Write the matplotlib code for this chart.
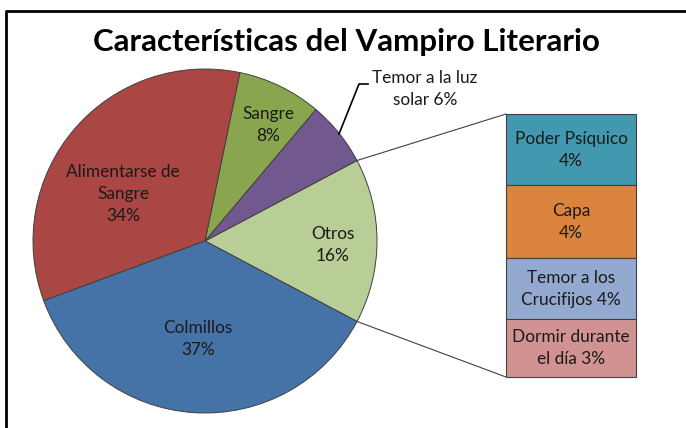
import numpy as np
import matplotlib.pyplot as plt

plt.rcParams['font.family'] = ['Lato', 'DejaVu Sans']

# Datos
pie_labels = ['Otros', 'Temor a la luz\nsolar', 'Sangre', 'Alimentarse de\nSangre', 'Colmillos']
pie_values = [15.5, 6.1, 7.9, 33.9, 36.6]
pie_colors = ['#B9CD96', '#71588F', '#89A54E', '#AA4643', '#4572A7']

bar_labels = ['Poder Psíquico\n{}%', 'Capa\n{}%', 'Temor a los\nCrucifijos {}%', 'Dormir durante\nel día {}%']
bar_values = [4.2, 4.3, 3.6, 3.4]
bar_colors = ['#4198AF', '#DB843D', '#93A9CF', '#D19392']

W, H = 686, 428
fig = plt.figure(figsize=(W / 100, H / 100), dpi=100)
ax = fig.add_axes([0, 0, 1, 1])
ax.set_xlim(0, W)
ax.set_ylim(0, H)
ax.set_aspect('equal')
ax.axis('off')

# Marco
ax.plot([6, 6, W + 5], [-5, H - 11, H - 11], color='black', lw=2, clip_on=False)

# Pastel
cx, cy, r = 205, 187, 172
otros_ang = pie_values[0] / 100 * 360
wedges, _ = ax.pie(pie_values, colors=pie_colors, startangle=-otros_ang / 2,
                   center=(cx, cy), radius=r, counterclock=True,
                   wedgeprops=dict(edgecolor='#404040', linewidth=0.7))
ax.set_xlim(0, W)
ax.set_ylim(0, H)

txt = dict(ha='center', va='center', fontsize=12.4, color='#1a1a1a', linespacing=1.45)
ax.text(333, H - 245, 'Otros\n{:.0f}%'.format(pie_values[0]), **txt)
ax.text(268, H - 125, 'Sangre\n{:.0f}%'.format(pie_values[2]), **txt)
ax.text(123, H - 194, pie_labels[3] + '\n{:.0f}%'.format(pie_values[3]), **txt)
ax.text(198, H - 339, 'Colmillos\n{:.0f}%'.format(pie_values[4]), **txt)
ax.text(425, H - 89, pie_labels[1] + ' {:.0f}%'.format(pie_values[1]), **txt)
ax.plot([339, 359, 368], [H - 134, H - 84, H - 84], color='black', lw=1.2)

# Barra apilada
bx0, bx1 = 506, 636
btop, bbot = H - 114, H - 377
scale = (btop - bbot) / sum(bar_values)
top = btop
for lab, val, col in zip(bar_labels, bar_values, bar_colors):
    h = val * scale
    ax.bar((bx0 + bx1) / 2, h, bottom=top - h, width=bx1 - bx0, color=col,
           edgecolor='#404040', linewidth=0.8)
    ax.text((bx0 + bx1) / 2, top - h / 2, lab.format(round(val)), **txt)
    top -= h

# Lineas de conexion
a = np.radians(otros_ang / 2)
ax.plot([cx + r * np.cos(a), bx0], [cy + r * np.sin(a), btop], color='#404040', lw=0.8)
ax.plot([cx + r * np.cos(a), bx0], [cy - r * np.sin(a), bbot], color='#404040', lw=0.8)

ax.text(346, H - 42, 'Características del Vampiro Literario', ha='center', va='center',
        fontsize=22.5, fontweight='bold', color='black')

fig.savefig('out.png', dpi=100)
